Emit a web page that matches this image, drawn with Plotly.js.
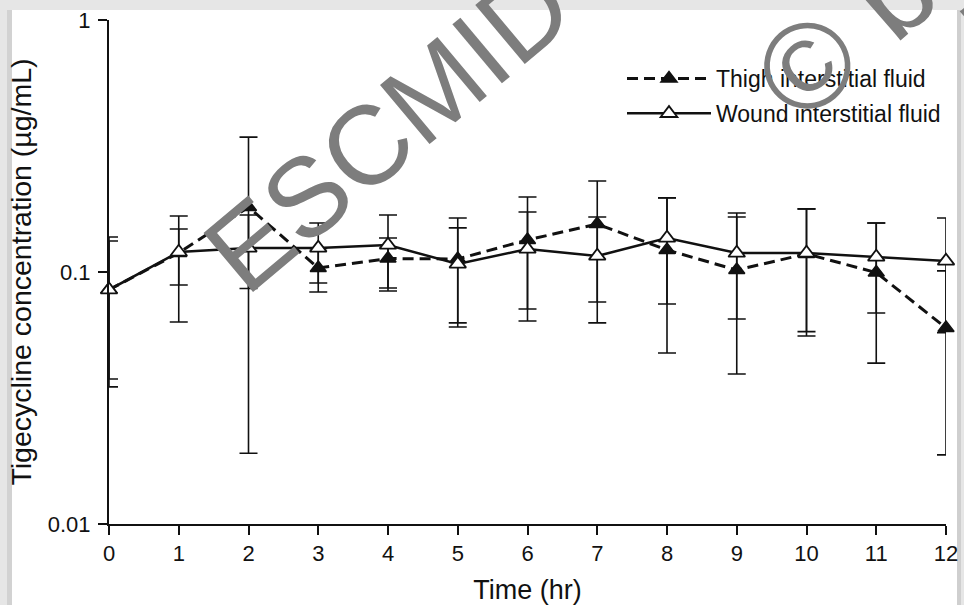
<!DOCTYPE html>
<html>
<head>
<meta charset="utf-8">
<script src="https://cdn.plot.ly/plotly-3.0.1.min.js"></script>
<style>
html,body{margin:0;padding:0;background:#e6e6e6;}
#chart{width:964px;height:605px;}
</style>
</head>
<body>
<div id="chart"></div>
<script>
// ---- data ----
var time = [0, 1, 2, 3, 4, 5, 6, 7, 8, 9, 10, 11, 12];
var xTickLabels = ['0','1','2','3','4','5','6','7','8','9','10','11','12'];
var yTickVals = [0.01, 0.1, 1];
var yTickLabels = ['0.01', '0.1', '1'];

var thighName = 'Thigh interstitial fluid';
var thighMean  = [0.085, 0.119, 0.181, 0.1037, 0.1131, 0.1126, 0.134, 0.155, 0.1223, 0.1018, 0.118, 0.0995, 0.060];
var thighUpper = [0.1377, 0.1668, 0.343, 0.124, 0.1364, 0.1638, 0.1984, 0.2297, 0.197, 0.1653, 0.178, 0.1565, 0.101];
var thighLower = [0.035, 0.0633, 0.0191, 0.0833, 0.0841, 0.0605, 0.0713, 0.076, 0.0477, 0.0394, 0.058, 0.0435, 0.0188];

var woundName = 'Wound interstitial fluid';
var woundMean  = [0.085, 0.12, 0.1245, 0.1245, 0.128, 0.1076, 0.1234, 0.1157, 0.1364, 0.1189, 0.1189, 0.1147, 0.1106];
var woundUpper = [0.1327, 0.1482, 0.1684, 0.1565, 0.1684, 0.1496, 0.173, 0.1653, 0.1966, 0.1714, 0.1778, 0.1565, 0.1638];
var woundLower = [0.0376, 0.0888, 0.086, 0.0904, 0.0864, 0.0628, 0.0639, 0.0628, 0.0746, 0.0651, 0.0557, 0.0688, 0.0574];

var xTitle = 'Time (hr)';
var yTitle = 'Tigecycline concentration (µg/mL)';
var watermark1 = 'ESCMID';
var watermark2 = '© by author';

// ---- helpers ----
function diff(a, b) { return a.map(function (v, i) { return v - b[i]; }); }

var FONT = 'Liberation Sans, Arial, Helvetica, sans-serif';
var INK = '#111111';

// pixel -> paper helpers for the frame / watermark (plot area 109..946 x, 20..524 y)
var L = 109, R = 18, T = 20, B = 81, W = 964, H = 605;
var PW = W - L - R, PH = H - T - B;
function px(x) { return (x - L) / PW; }
function py(y) { return (H - B - y) / PH; }

var thigh = {
  x: time, y: thighMean, name: thighName, type: 'scatter', mode: 'lines+markers',
  legendgroup: 'a', cliponaxis: false,
  line: {color: INK, width: 3, dash: '11px,6px'},
  marker: {symbol: 'triangle-up', size: 14, color: INK, line: {color: INK, width: 1.5}},
  error_y: {type: 'data', symmetric: false, array: diff(thighUpper, thighMean),
            arrayminus: diff(thighMean, thighLower), color: INK, thickness: 1.6, width: 9}
};
var wound = {
  x: time, y: woundMean, name: woundName, type: 'scatter', mode: 'lines+markers',
  legendgroup: 'b', cliponaxis: false,
  line: {color: INK, width: 2.5},
  marker: {symbol: 'triangle-up', size: 14.5, color: '#ffffff', line: {color: INK, width: 1.8}},
  error_y: {type: 'data', symmetric: false, array: diff(woundUpper, woundMean),
            arrayminus: diff(woundMean, woundLower), color: INK, thickness: 1.6, width: 9}
};

var layout = {
  width: W, height: H,
  margin: {l: L, r: R, t: T, b: B},
  paper_bgcolor: '#e6e6e6',
  plot_bgcolor: '#ffffff',
  font: {family: FONT, color: INK, size: 22},
  showlegend: true,
  legend: {
    x: px(622), y: py(57), xanchor: 'left', yanchor: 'top',
    bgcolor: 'rgba(0,0,0,0)', font: {family: FONT, size: 23, color: INK},
    itemwidth: 84, tracegroupgap: 2, traceorder: 'grouped'
  },
  xaxis: {
    range: [0, 12], tickmode: 'array', tickvals: time, ticktext: xTickLabels,
    showline: true, linecolor: INK, linewidth: 2, ticks: 'outside', ticklen: 9,
    tickwidth: 2, tickcolor: INK, showgrid: false, zeroline: false,
    tickfont: {family: FONT, size: 22, color: INK},
    title: {text: xTitle, font: {family: FONT, size: 27, color: INK}, standoff: 26}
  },
  yaxis: {
    type: 'log', range: [-2, 0], tickmode: 'array', tickvals: yTickVals, ticktext: yTickLabels,
    showline: true, linecolor: INK, linewidth: 2, ticks: 'outside', ticklen: 9,
    tickwidth: 2, tickcolor: INK, showgrid: false, zeroline: false,
    tickfont: {family: FONT, size: 22, color: INK}, ticklabelstandoff: 3,
    title: {text: yTitle, font: {family: FONT, size: 28.5, color: INK}, standoff: 8}
  },
  shapes: [
    {type: 'rect', xref: 'paper', yref: 'paper', layer: 'below',
     x0: px(12), x1: px(957), y0: py(606), y1: py(10),
     fillcolor: '#ffffff', line: {width: 0}},
    {type: 'rect', xref: 'paper', yref: 'paper', layer: 'below',
     x0: px(7), x1: px(12), y0: py(606), y1: py(10),
     fillcolor: '#d2d2d2', line: {width: 0}},
    {type: 'rect', xref: 'paper', yref: 'paper', layer: 'below',
     x0: px(957), x1: px(961), y0: py(606), y1: py(10),
     fillcolor: '#cfcfcf', line: {width: 0}}
  ],
  annotations: [
    {xref: 'paper', yref: 'paper', x: px(388), y: py(128), xanchor: 'center', yanchor: 'middle',
     text: watermark1, showarrow: false, textangle: -40,
     font: {family: FONT, size: 112, color: '#7d7d7d'}},
    {xref: 'paper', yref: 'paper', x: px(1012), y: py(-112), xanchor: 'center', yanchor: 'middle',
     text: watermark2, showarrow: false, textangle: -41,
     font: {family: FONT, size: 122, color: '#7d7d7d'}}
  ]
};

Plotly.newPlot('chart', [thigh, wound], layout, {displayModeBar: false, staticPlot: true});
</script>
</body>
</html>
